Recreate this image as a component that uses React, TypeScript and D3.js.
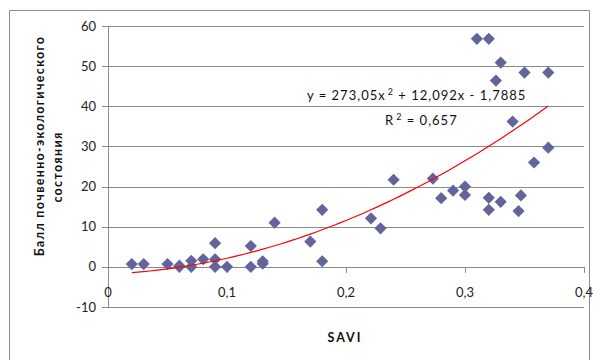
import * as d3 from "d3"

// SAVI vs soil-ecological score
const savi = [
  0.02, 0.03, 0.05, 0.06, 0.06, 0.07, 0.07, 0.08, 0.09, 0.09, 0.09, 0.1,
  0.12, 0.12, 0.13, 0.13, 0.14, 0.17, 0.18, 0.18, 0.221, 0.229, 0.24, 0.273,
  0.28, 0.29, 0.3, 0.3, 0.31, 0.32, 0.32, 0.32, 0.326, 0.33, 0.33, 0.34,
  0.345, 0.347, 0.35, 0.358, 0.37, 0.37,
]
const score = [
  0.7, 0.7, 0.7, 0.3, 0, 1.5, 0, 1.9, 5.9, 1.9, 0, 0,
  5.2, 0, 1.4, 0.8, 11, 6.3, 14.2, 1.4, 12.1, 9.6, 21.7, 22,
  17.1, 19, 20, 17.9, 56.8, 56.8, 17.2, 14.2, 46.4, 50.9, 16.2, 36.2,
  13.9, 17.8, 48.4, 26, 48.4, 29.7,
]

const xTicks = [0, 0.1, 0.2, 0.3, 0.4]
const yTicks = [-10, 0, 10, 20, 30, 40, 50, 60]

// trend: y = a x^2 + b x + c
const trendCoef = [273.05, 12.092, -1.7885]
const trendRange = [0.02, 0.37]

const FONT = "Lato, 'Open Sans', sans-serif"
const fmt = (v: number) => String(v).replace(".", ",")

export default function App() {
  const W = 593
  const H = 360
  const x = d3.scaleLinear().domain([0, 0.4]).range([108, 584])
  const y = d3.scaleLinear().domain([-10, 60]).range([307, 26])

  const pts = savi.map((s, i) => ({ s, v: score[i] }))

  const trendPts = d3.range(trendRange[0], trendRange[1] + 1e-9, 0.005).map(t => ({
    t,
    v: trendCoef[0] * t * t + trendCoef[1] * t + trendCoef[2],
  }))
  const trendLine = d3.line<{ t: number; v: number }>()
    .x(d => x(d.t))
    .y(d => y(d.v))

  const diamond = d3.symbol().type(d3.symbolDiamond2).size(95)()

  return (
    <svg width={W} height={H} style={{ position: "absolute", left: 0, top: 0, background: "#fff" }}>
      {/* outer frame */}
      <path d={`M9.5,${H + 2}V10.5H589.5V${H + 2}`} fill="none" stroke="#8c8c8c" strokeWidth={1} />

      {/* gridlines */}
      {yTicks.map(t => (
        <line key={t} x1={x(0)} x2={x(0.4)} y1={Math.round(y(t)) + 0.5} y2={Math.round(y(t)) + 0.5}
          stroke="#8a8a8a" strokeWidth={1} />
      ))}

      {/* y axis */}
      <line x1={x(0) + 0.5} x2={x(0) + 0.5} y1={y(60)} y2={y(-10)} stroke="#8a8a8a" />
      {yTicks.map(t => (
        <g key={t}>
          <line x1={x(0) - 6} x2={x(0)} y1={Math.round(y(t)) + 0.5} y2={Math.round(y(t)) + 0.5} stroke="#8a8a8a" />
          <text x={96} y={y(t) + 4.5} textAnchor="end" fontFamily={FONT} fontSize={13} fill="#222">{t}</text>
        </g>
      ))}

      {/* x axis ticks at y=0 */}
      {xTicks.map(t => (
        <g key={t}>
          <line x1={Math.round(x(t)) + 0.5} x2={Math.round(x(t)) + 0.5} y1={y(0)} y2={y(0) + 6} stroke="#8a8a8a" />
          <text x={x(t)} y={297} textAnchor="middle" fontFamily={FONT} fontSize={13} fill="#222">{fmt(t)}</text>
        </g>
      ))}

      {/* points */}
      {pts.map((d, i) => (
        <path key={i} d={diamond!} transform={`translate(${x(d.s)},${y(d.v)})`} fill="#64649c" />
      ))}

      {/* trend */}
      <path d={trendLine(trendPts)!} fill="none" stroke="#ff0000" strokeWidth={1.2} />

      {/* equation */}
      <text x={307} y={100} fontFamily={FONT} fontSize={13} fill="#111" letterSpacing={1} xmlSpace="preserve">
        y = 273,05x<tspan dx={2} dy={-5} fontSize={9}>2</tspan><tspan dy={5}> + 12,092x - 1,7885</tspan>
      </text>
      <text x={385} y={125} fontFamily={FONT} fontSize={13} fill="#111" letterSpacing={1} xmlSpace="preserve">
        R<tspan dx={2} dy={-5} fontSize={9}>2</tspan><tspan dy={5}> = 0,657</tspan>
      </text>

      {/* axis titles */}
      <text transform="translate(44,146) rotate(-90)" textAnchor="middle" fontFamily={FONT} fontSize={12.5}
        fontWeight="bold" fill="#111" letterSpacing={1.3}>Балл почвенно-экологического</text>
      <text transform="translate(62,167) rotate(-90)" textAnchor="middle" fontFamily={FONT} fontSize={12.5}
        fontWeight="bold" fill="#111" letterSpacing={1.3}>состояния</text>
      <text x={345} y={342} textAnchor="middle" fontFamily={FONT} fontSize={12.5} fontWeight="bold" fill="#111"
        letterSpacing={2}>SAVI</text>
    </svg>
  )
}
